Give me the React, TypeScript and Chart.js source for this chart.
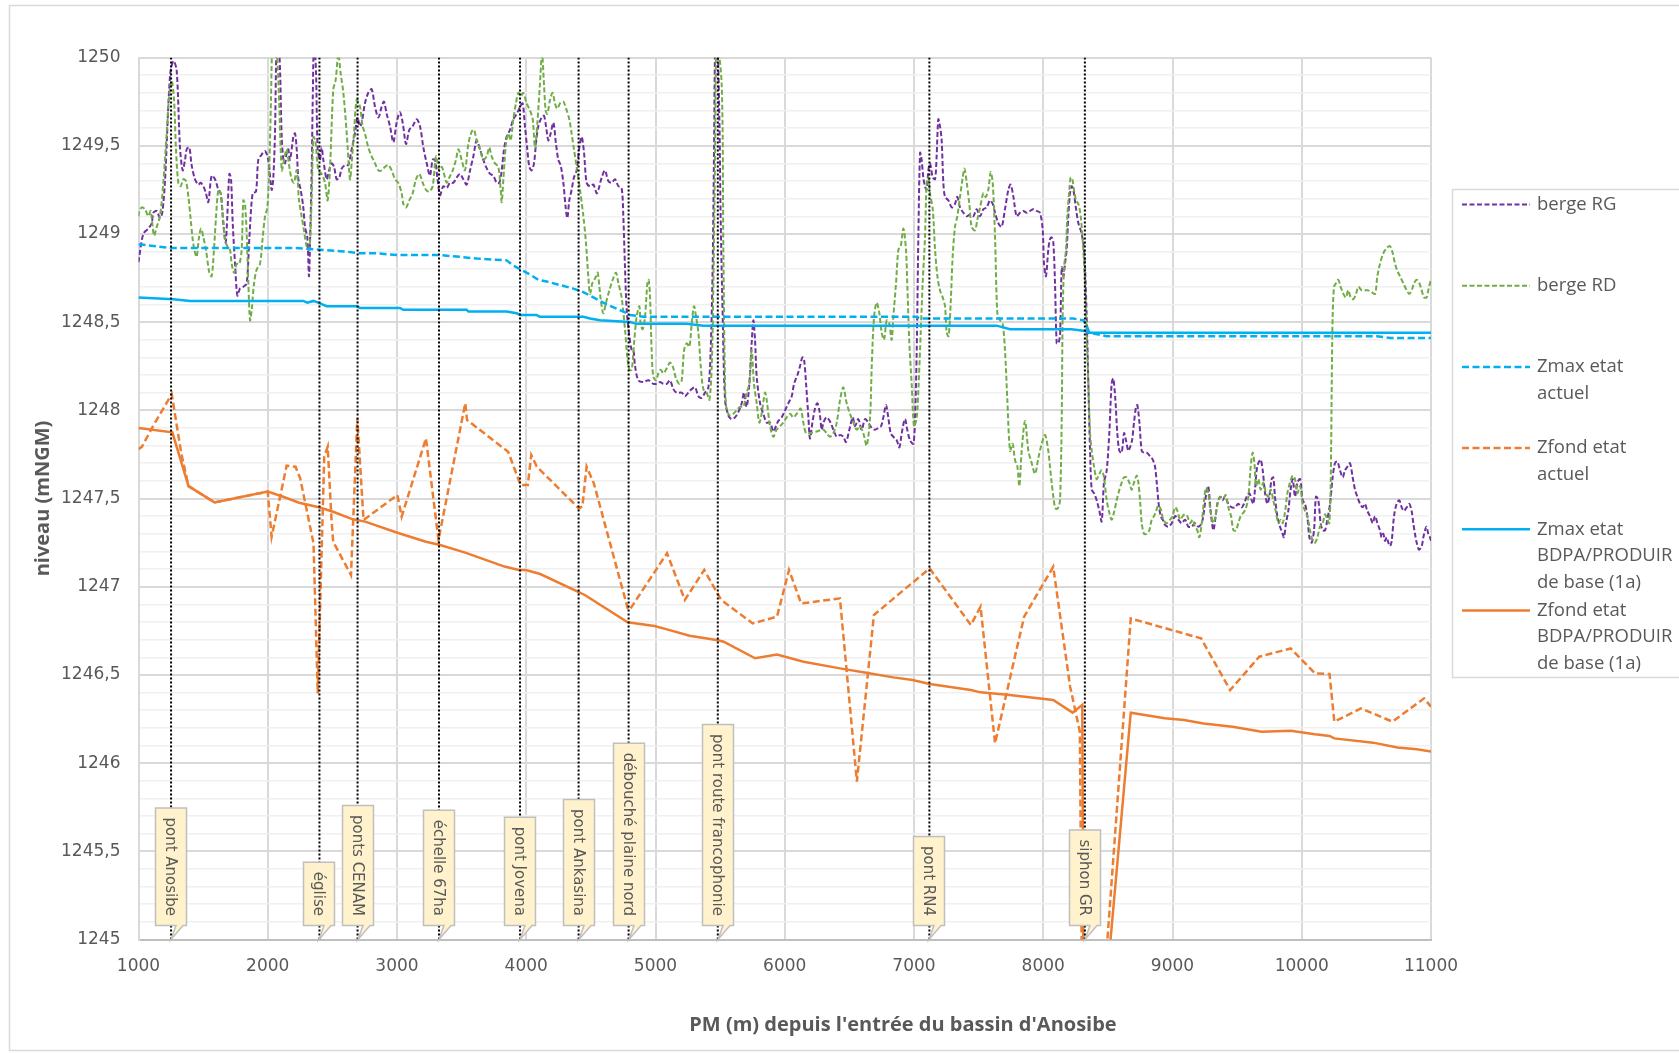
import React, { useEffect, useRef } from 'react';
import { Chart, registerables } from 'chart.js';

Chart.register(...registerables);

type P = [number, number];

// ---------- DATA ----------
const xTickLabels = ['1000', '2000', '3000', '4000', '5000', '6000', '7000', '8000', '9000', '10000', '11000'];
const yTickLabels = ['1245', '1245,5', '1246', '1246,5', '1247', '1247,5', '1248', '1248,5', '1249', '1249,5', '1250'];
const xTitle = "PM (m) depuis l'entrée du bassin d'Anosibe";
const yTitle = 'niveau (mNGM)';

const legendLabels: string[][] = [
  ['berge RG'],
  ['berge RD'],
  ['Zmax etat', 'actuel'],
  ['Zfond etat', 'actuel'],
  ['Zmax etat', 'BDPA/PRODUIR', 'de base (1a)'],
  ['Zfond etat', 'BDPA/PRODUIR', 'de base (1a)'],
];

const structureX = [1252, 2400, 2695, 3325, 3952, 4405, 4792, 5482, 7119, 8322];
const structureLabels = ['pont Anosibe', 'église', 'ponts CENAM', 'échelle 67ha', 'pont Jovena', 'pont Ankasina', 'débouché plaine nord', 'pont route francophonie', 'pont RN4', 'siphon GR'];

const bergeRG: P[] = [
  [1000,1248.84],[1004,1248.86],[1037,1249.00],[1076,1249.03],[1102,1249.06],[1115,1249.12],[1141,1249.13],[1166,1249.09],[1184,1249.12],[1205,1249.30],[1244,1249.90],[1270,1249.98],[1295,1249.93],[1321,1249.49],[1342,1249.36],[1360,1249.42],[1373,1249.48],[1393,1249.49],[1411,1249.39],[1437,1249.31],[1463,1249.28],[1481,1249.29],[1502,1249.27],[1522,1249.23],[1540,1249.18],[1566,1249.33],[1592,1249.31],[1618,1249.25],[1636,1249.23],[1656,1249.06],[1674,1248.95],[1687,1249.10],[1703,1249.34],[1716,1249.31],[1729,1249.06],[1747,1248.83],[1765,1248.65],[1785,1248.69],[1811,1248.70],[1837,1248.72],[1858,1248.98],[1883,1249.23],[1909,1249.24],[1927,1249.42],[1953,1249.45],[1979,1249.47],[2004,1249.42],[2030,1249.25],[2043,1249.32],[2056,1249.57],[2069,1250.1],[2082,1250.1],[2095,1249.93],[2108,1249.55],[2121,1249.42],[2134,1249.40],[2146,1249.46],[2159,1249.48],[2172,1249.42],[2198,1249.55],[2211,1249.57],[2224,1249.48],[2237,1249.31],[2255,1249.25],[2275,1249.15],[2288,1249.04],[2306,1248.98],[2319,1248.76],[2327,1248.95],[2340,1249.36],[2348,1249.76],[2358,1250.1],[2373,1249.93],[2386,1249.48],[2404,1249.42],[2417,1249.49],[2430,1249.42],[2456,1249.31],[2474,1249.36],[2495,1249.40],[2513,1249.38],[2533,1249.31],[2554,1249.32],[2572,1249.37],[2598,1249.39],[2623,1249.39],[2649,1249.48],[2675,1249.57],[2693,1249.66],[2714,1249.61],[2727,1249.63],[2752,1249.74],[2778,1249.80],[2804,1249.82],[2830,1249.72],[2856,1249.66],[2881,1249.72],[2899,1249.75],[2920,1249.68],[2946,1249.61],[2972,1249.52],[2997,1249.63],[3023,1249.69],[3044,1249.63],[3070,1249.51],[3095,1249.59],[3121,1249.61],[3152,1249.65],[3178,1249.61],[3204,1249.49],[3230,1249.40],[3255,1249.33],[3276,1249.42],[3294,1249.42],[3312,1249.32],[3333,1249.22],[3358,1249.27],[3384,1249.26],[3410,1249.29],[3436,1249.29],[3462,1249.32],[3487,1249.34],[3513,1249.31],[3539,1249.28],[3565,1249.36],[3591,1249.44],[3616,1249.53],[3642,1249.48],[3668,1249.42],[3689,1249.38],[3720,1249.34],[3745,1249.33],[3771,1249.29],[3792,1249.29],[3810,1249.36],[3828,1249.48],[3848,1249.55],[3874,1249.59],[3900,1249.65],[3926,1249.68],[3952,1249.72],[3972,1249.74],[3990,1249.61],[4008,1249.48],[4024,1249.38],[4042,1249.36],[4060,1249.40],[4075,1249.51],[4093,1249.61],[4119,1249.66],[4137,1249.67],[4153,1249.61],[4171,1249.53],[4189,1249.57],[4210,1249.63],[4230,1249.51],[4248,1249.42],[4266,1249.39],[4287,1249.29],[4305,1249.15],[4318,1249.09],[4333,1249.19],[4351,1249.25],[4369,1249.32],[4390,1249.36],[4411,1249.49],[4429,1249.55],[4447,1249.46],[4467,1249.29],[4493,1249.27],[4519,1249.28],[4545,1249.23],[4558,1249.25],[4584,1249.32],[4609,1249.36],[4635,1249.30],[4661,1249.29],[4687,1249.31],[4713,1249.27],[4738,1249.26],[4751,1249.10],[4764,1248.81],[4777,1248.57],[4798,1248.42],[4816,1248.34],[4829,1248.34],[4842,1248.25],[4867,1248.17],[4906,1248.16],[4945,1248.17],[4983,1248.15],[5009,1248.15],[5035,1248.16],[5061,1248.15],[5087,1248.15],[5112,1248.17],[5138,1248.12],[5164,1248.10],[5203,1248.10],[5228,1248.08],[5254,1248.10],[5280,1248.12],[5306,1248.13],[5332,1248.08],[5357,1248.07],[5383,1248.10],[5409,1248.13],[5427,1248.34],[5442,1248.81],[5453,1249.48],[5463,1250.1],[5478,1250.1],[5494,1249.66],[5504,1249.10],[5520,1248.53],[5538,1248.06],[5564,1247.97],[5589,1247.95],[5615,1247.96],[5641,1247.99],[5667,1248.04],[5685,1248.10],[5705,1248.02],[5726,1248.15],[5744,1248.38],[5757,1248.51],[5770,1248.40],[5783,1248.19],[5809,1248.04],[5834,1247.98],[5860,1247.93],[5886,1247.93],[5912,1247.88],[5932,1247.91],[5950,1247.94],[5976,1247.96],[6002,1248.00],[6028,1248.04],[6054,1248.08],[6072,1248.15],[6098,1248.20],[6118,1248.25],[6136,1248.30],[6149,1248.29],[6165,1248.15],[6183,1247.96],[6195,1247.84],[6214,1247.93],[6234,1248.01],[6252,1248.04],[6268,1248.00],[6286,1247.89],[6299,1247.93],[6324,1247.96],[6355,1247.93],[6376,1247.89],[6402,1247.85],[6428,1247.86],[6453,1247.85],[6474,1247.82],[6500,1247.89],[6526,1247.96],[6544,1247.91],[6569,1247.95],[6595,1247.89],[6621,1247.95],[6647,1247.93],[6673,1247.90],[6698,1247.89],[6724,1247.90],[6745,1247.91],[6763,1247.96],[6783,1248.03],[6801,1247.96],[6820,1247.87],[6840,1247.85],[6866,1247.83],[6887,1247.79],[6905,1247.87],[6930,1247.95],[6948,1247.89],[6969,1247.83],[6995,1247.81],[7008,1247.96],[7021,1248.34],[7034,1249.00],[7047,1249.46],[7059,1249.42],[7072,1249.32],[7085,1249.27],[7098,1249.25],[7111,1249.36],[7124,1249.40],[7145,1249.32],[7163,1249.31],[7175,1249.44],[7188,1249.65],[7201,1249.61],[7214,1249.53],[7227,1249.29],[7240,1249.21],[7266,1249.19],[7292,1249.15],[7317,1249.17],[7335,1249.21],[7356,1249.15],[7382,1249.12],[7408,1249.10],[7433,1249.11],[7459,1249.10],[7485,1249.14],[7511,1249.10],[7537,1249.14],[7562,1249.15],[7588,1249.19],[7609,1249.17],[7627,1249.12],[7653,1249.06],[7678,1249.04],[7704,1249.14],[7730,1249.25],[7748,1249.28],[7769,1249.21],[7794,1249.10],[7820,1249.12],[7846,1249.13],[7872,1249.12],[7898,1249.13],[7923,1249.14],[7949,1249.13],[7975,1249.12],[7996,1249.02],[8006,1248.83],[8021,1248.76],[8039,1248.91],[8052,1248.97],[8065,1248.98],[8078,1248.95],[8091,1248.72],[8104,1248.38],[8117,1248.38],[8130,1248.43],[8143,1248.81],[8156,1248.76],[8168,1248.83],[8181,1248.91],[8194,1249.10],[8207,1249.23],[8220,1249.27],[8233,1249.25],[8254,1249.14],[8272,1249.06],[8290,1249.02],[8310,1248.95],[8323,1248.81],[8336,1248.53],[8349,1248.15],[8362,1247.77],[8375,1247.55],[8393,1247.53],[8413,1247.49],[8434,1247.43],[8452,1247.37],[8470,1247.59],[8491,1247.66],[8511,1247.87],[8529,1248.15],[8542,1248.18],[8558,1248.06],[8573,1247.87],[8589,1247.77],[8607,1247.76],[8625,1247.87],[8640,1247.83],[8658,1247.77],[8671,1247.79],[8687,1247.83],[8702,1247.93],[8718,1248.02],[8728,1248.03],[8744,1247.93],[8762,1247.77],[8780,1247.76],[8800,1247.76],[8826,1247.74],[8847,1247.72],[8865,1247.68],[8878,1247.59],[8893,1247.47],[8909,1247.40],[8924,1247.38],[8942,1247.35],[8968,1247.34],[8994,1247.36],[9020,1247.40],[9045,1247.38],[9071,1247.36],[9097,1247.38],[9123,1247.34],[9148,1247.34],[9174,1247.36],[9200,1247.34],[9226,1247.36],[9244,1247.43],[9265,1247.55],[9277,1247.57],[9295,1247.43],[9316,1247.32],[9334,1247.40],[9347,1247.47],[9368,1247.51],[9388,1247.49],[9406,1247.51],[9432,1247.47],[9458,1247.45],[9484,1247.45],[9509,1247.47],[9535,1247.45],[9553,1247.47],[9574,1247.51],[9595,1247.53],[9613,1247.49],[9626,1247.47],[9638,1247.55],[9651,1247.66],[9664,1247.70],[9682,1247.72],[9698,1247.66],[9716,1247.53],[9734,1247.47],[9749,1247.51],[9767,1247.61],[9780,1247.62],[9793,1247.51],[9811,1247.40],[9832,1247.34],[9852,1247.30],[9863,1247.28],[9878,1247.36],[9896,1247.43],[9914,1247.55],[9930,1247.61],[9948,1247.51],[9966,1247.59],[9987,1247.61],[10007,1247.49],[10025,1247.47],[10043,1247.40],[10059,1247.28],[10077,1247.25],[10095,1247.32],[10110,1247.51],[10128,1247.49],[10146,1247.36],[10162,1247.32],[10180,1247.32],[10198,1247.38],[10219,1247.47],[10239,1247.62],[10257,1247.70],[10275,1247.71],[10296,1247.66],[10317,1247.62],[10335,1247.66],[10353,1247.68],[10373,1247.70],[10394,1247.62],[10412,1247.55],[10430,1247.51],[10451,1247.47],[10471,1247.45],[10489,1247.47],[10507,1247.43],[10528,1247.40],[10549,1247.36],[10567,1247.40],[10585,1247.36],[10605,1247.32],[10618,1247.28],[10631,1247.30],[10644,1247.26],[10657,1247.28],[10670,1247.25],[10683,1247.23],[10696,1247.26],[10714,1247.40],[10734,1247.47],[10755,1247.49],[10773,1247.45],[10791,1247.43],[10812,1247.45],[10832,1247.47],[10850,1247.43],[10863,1247.36],[10876,1247.30],[10889,1247.25],[10907,1247.21],[10928,1247.23],[10941,1247.28],[10954,1247.32],[10966,1247.34],[10979,1247.30],[10992,1247.28],[11000,1247.26],
];

const bergeRD: P[] = [
  [1000,1249.10],[1004,1249.12],[1025,1249.15],[1050,1249.14],[1076,1249.10],[1094,1249.13],[1120,1248.99],[1141,1249.04],[1166,1249.10],[1192,1249.29],[1218,1249.57],[1239,1249.80],[1257,1249.87],[1275,1249.76],[1290,1249.48],[1308,1249.29],[1326,1249.27],[1347,1249.31],[1367,1249.30],[1386,1249.21],[1404,1249.08],[1419,1248.97],[1432,1248.91],[1450,1248.87],[1468,1248.98],[1484,1249.03],[1502,1248.98],[1522,1248.91],[1548,1248.78],[1566,1248.76],[1584,1248.91],[1600,1249.10],[1618,1249.25],[1636,1249.23],[1651,1249.12],[1669,1248.97],[1687,1248.93],[1708,1248.91],[1721,1248.83],[1739,1248.78],[1759,1248.83],[1780,1248.83],[1798,1248.91],[1811,1249.19],[1824,1249.17],[1837,1249.00],[1850,1248.72],[1863,1248.51],[1876,1248.57],[1894,1248.72],[1915,1248.80],[1940,1248.83],[1961,1248.98],[1979,1249.10],[1997,1249.15],[2012,1249.38],[2025,1249.76],[2038,1250.1],[2060,1250.1],[2082,1249.87],[2108,1249.36],[2126,1249.42],[2146,1249.48],[2167,1249.38],[2185,1249.31],[2203,1249.29],[2224,1249.36],[2242,1249.19],[2262,1249.10],[2280,1249.02],[2301,1248.93],[2322,1248.91],[2340,1249.21],[2353,1249.55],[2368,1249.53],[2391,1249.36],[2417,1249.34],[2443,1249.29],[2463,1249.19],[2481,1249.36],[2507,1249.82],[2525,1249.87],[2546,1250.02],[2564,1249.91],[2585,1249.80],[2611,1249.57],[2636,1249.31],[2649,1249.40],[2667,1249.57],[2688,1249.76],[2714,1249.72],[2734,1249.61],[2752,1249.57],[2778,1249.49],[2804,1249.44],[2830,1249.40],[2856,1249.36],[2881,1249.36],[2907,1249.38],[2933,1249.39],[2959,1249.36],[2985,1249.31],[3010,1249.29],[3036,1249.23],[3049,1249.17],[3070,1249.15],[3095,1249.19],[3121,1249.23],[3147,1249.31],[3173,1249.34],[3199,1249.29],[3224,1249.25],[3250,1249.24],[3276,1249.27],[3302,1249.44],[3327,1249.36],[3346,1249.38],[3364,1249.34],[3384,1249.29],[3405,1249.32],[3431,1249.36],[3456,1249.42],[3475,1249.48],[3500,1249.42],[3526,1249.36],[3552,1249.51],[3578,1249.58],[3596,1249.59],[3616,1249.53],[3642,1249.48],[3668,1249.42],[3694,1249.44],[3714,1249.49],[3732,1249.44],[3758,1249.40],[3784,1249.38],[3802,1249.25],[3810,1249.18],[3823,1249.31],[3843,1249.51],[3861,1249.57],[3879,1249.53],[3900,1249.65],[3920,1249.74],[3939,1249.80],[3957,1249.78],[3977,1249.80],[4003,1249.74],[4029,1249.70],[4050,1249.65],[4068,1249.49],[4086,1249.63],[4106,1249.85],[4122,1250.02],[4137,1249.85],[4150,1249.70],[4163,1249.68],[4184,1249.76],[4204,1249.80],[4222,1249.74],[4240,1249.71],[4261,1249.74],[4287,1249.75],[4313,1249.70],[4333,1249.65],[4351,1249.57],[4369,1249.48],[4390,1249.38],[4416,1249.25],[4442,1249.10],[4462,1248.95],[4480,1248.76],[4493,1248.66],[4511,1248.72],[4527,1248.74],[4540,1248.76],[4553,1248.78],[4576,1248.63],[4596,1248.55],[4617,1248.61],[4643,1248.68],[4669,1248.74],[4694,1248.78],[4713,1248.72],[4738,1248.64],[4764,1248.46],[4782,1248.30],[4798,1248.23],[4816,1248.23],[4834,1248.38],[4854,1248.53],[4875,1248.59],[4885,1248.49],[4901,1248.46],[4919,1248.53],[4937,1248.72],[4947,1248.74],[4958,1248.64],[4970,1248.34],[4983,1248.19],[5004,1248.17],[5022,1248.21],[5040,1248.23],[5061,1248.21],[5081,1248.23],[5112,1248.27],[5133,1248.25],[5159,1248.18],[5185,1248.15],[5203,1248.17],[5221,1248.34],[5241,1248.38],[5262,1248.36],[5280,1248.49],[5298,1248.59],[5314,1248.53],[5332,1248.44],[5350,1248.25],[5370,1248.12],[5396,1248.10],[5417,1248.06],[5435,1248.25],[5448,1248.72],[5460,1249.38],[5473,1250.1],[5512,1249.85],[5525,1248.91],[5538,1248.15],[5551,1248.00],[5577,1247.97],[5602,1247.98],[5628,1248.00],[5654,1248.02],[5680,1248.02],[5705,1248.10],[5726,1248.15],[5744,1248.34],[5762,1248.15],[5783,1248.04],[5803,1247.93],[5821,1247.98],[5847,1248.10],[5860,1248.06],[5886,1247.91],[5912,1247.85],[5937,1247.89],[5963,1247.91],[5989,1247.93],[6015,1247.96],[6041,1247.98],[6066,1247.96],[6092,1247.98],[6123,1248.01],[6144,1247.93],[6165,1247.87],[6195,1247.87],[6247,1247.88],[6299,1247.89],[6324,1247.87],[6350,1247.85],[6376,1247.87],[6402,1247.93],[6428,1248.06],[6453,1248.13],[6479,1248.04],[6505,1247.98],[6531,1247.93],[6557,1247.89],[6582,1247.91],[6608,1247.87],[6634,1247.80],[6660,1247.96],[6673,1248.25],[6691,1248.53],[6711,1248.61],[6732,1248.55],[6750,1248.44],[6768,1248.40],[6789,1248.51],[6809,1248.49],[6827,1248.40],[6840,1248.53],[6861,1248.72],[6879,1248.91],[6897,1248.93],[6918,1249.03],[6938,1248.91],[6948,1248.72],[6964,1248.38],[6982,1248.15],[7000,1247.91],[7021,1247.96],[7036,1248.15],[7052,1248.44],[7067,1248.72],[7085,1248.98],[7098,1249.29],[7111,1249.32],[7124,1249.23],[7145,1249.14],[7163,1248.91],[7181,1248.76],[7201,1248.68],[7222,1248.64],[7240,1248.59],[7253,1248.44],[7268,1248.42],[7284,1248.61],[7299,1248.87],[7317,1249.04],[7335,1249.10],[7356,1249.21],[7377,1249.32],[7390,1249.37],[7408,1249.29],[7428,1249.17],[7446,1249.04],[7472,1249.02],[7490,1249.08],[7511,1249.15],[7537,1249.23],[7555,1249.21],[7575,1249.25],[7593,1249.35],[7609,1249.29],[7627,1248.98],[7645,1248.55],[7666,1248.51],[7686,1248.49],[7704,1248.34],[7722,1248.06],[7743,1247.77],[7763,1247.81],[7781,1247.72],[7800,1247.68],[7815,1247.57],[7833,1247.77],[7859,1247.94],[7885,1247.77],[7911,1247.70],[7937,1247.64],[7962,1247.73],[7988,1247.81],[8014,1247.86],[8039,1247.77],[8052,1247.68],[8065,1247.59],[8078,1247.51],[8091,1247.45],[8104,1247.44],[8117,1247.45],[8130,1247.49],[8143,1247.96],[8150,1248.53],[8161,1248.81],[8176,1248.91],[8186,1249.10],[8202,1249.25],[8212,1249.32],[8225,1249.31],[8238,1249.25],[8254,1249.19],[8272,1249.17],[8290,1249.10],[8310,1248.91],[8323,1248.72],[8336,1248.44],[8349,1248.15],[8362,1247.87],[8375,1247.77],[8393,1247.68],[8413,1247.61],[8434,1247.64],[8452,1247.66],[8470,1247.62],[8491,1247.49],[8511,1247.42],[8529,1247.38],[8547,1247.42],[8568,1247.49],[8589,1247.55],[8607,1247.59],[8625,1247.62],[8645,1247.62],[8666,1247.59],[8684,1247.55],[8702,1247.59],[8723,1247.63],[8736,1247.59],[8749,1247.49],[8762,1247.36],[8780,1247.30],[8800,1247.30],[8821,1247.32],[8839,1247.38],[8857,1247.40],[8878,1247.44],[8890,1247.46],[8909,1247.44],[8929,1247.38],[8955,1247.36],[8981,1247.38],[9001,1247.40],[9020,1247.45],[9038,1247.43],[9058,1247.38],[9079,1247.40],[9097,1247.41],[9115,1247.40],[9136,1247.36],[9156,1247.38],[9174,1247.34],[9192,1247.32],[9208,1247.28],[9226,1247.36],[9244,1247.49],[9259,1247.56],[9277,1247.53],[9295,1247.42],[9316,1247.36],[9337,1247.42],[9355,1247.49],[9373,1247.51],[9393,1247.50],[9412,1247.52],[9432,1247.45],[9453,1247.40],[9471,1247.32],[9491,1247.32],[9509,1247.36],[9527,1247.40],[9548,1247.42],[9566,1247.44],[9587,1247.51],[9605,1247.68],[9620,1247.76],[9634,1247.70],[9646,1247.57],[9664,1247.61],[9682,1247.55],[9703,1247.59],[9723,1247.53],[9741,1247.51],[9760,1247.55],[9780,1247.49],[9801,1247.42],[9819,1247.36],[9837,1247.38],[9852,1247.36],[9870,1247.42],[9889,1247.53],[9909,1247.59],[9930,1247.63],[9948,1247.61],[9966,1247.53],[9987,1247.57],[10007,1247.47],[10025,1247.43],[10043,1247.40],[10064,1247.32],[10085,1247.26],[10103,1247.25],[10121,1247.28],[10141,1247.34],[10162,1247.36],[10180,1247.41],[10198,1247.38],[10213,1247.36],[10224,1247.59],[10232,1248.15],[10239,1248.53],[10250,1248.70],[10265,1248.72],[10283,1248.74],[10301,1248.70],[10322,1248.66],[10342,1248.64],[10360,1248.68],[10379,1248.64],[10399,1248.63],[10420,1248.66],[10438,1248.70],[10464,1248.68],[10489,1248.68],[10515,1248.68],[10541,1248.67],[10567,1248.66],[10585,1248.76],[10605,1248.83],[10631,1248.89],[10657,1248.92],[10683,1248.93],[10704,1248.89],[10722,1248.83],[10740,1248.79],[10760,1248.76],[10786,1248.72],[10812,1248.68],[10832,1248.66],[10850,1248.68],[10869,1248.72],[10889,1248.74],[10910,1248.72],[10928,1248.68],[10946,1248.64],[10966,1248.64],[10979,1248.68],[10992,1248.72],[11000,1248.74],
];

const zmaxActuel: P[] = [
  [1000,1248.94],[1024,1248.94],[1244,1248.92],[2220,1248.92],[2600,1248.90],[2714,1248.89],[2843,1248.89],[2997,1248.88],[3333,1248.88],[3487,1248.87],[3616,1248.86],[3848,1248.85],[3900,1248.82],[3952,1248.80],[4029,1248.77],[4093,1248.74],[4158,1248.73],[4261,1248.71],[4364,1248.69],[4442,1248.67],[4519,1248.64],[4570,1248.62],[4622,1248.60],[4751,1248.56],[4803,1248.54],[4906,1248.53],[7021,1248.53],[7047,1248.52],[8233,1248.52],[8310,1248.51],[8336,1248.48],[8356,1248.44],[8491,1248.42],[10580,1248.42],[10683,1248.41],[11000,1248.41],
];

const zfondActuel: P[] = [
  [1000,1247.78],[1027,1247.794],[1110,1247.907],[1257,1248.092],[1331,1247.756],[1387,1247.57],[1588,1247.478],[2000,1247.539],[2030,1247.283],[2146,1247.686],[2215,1247.68],[2251,1247.614],[2354,1247.246],[2387,1246.395],[2437,1247.737],[2464,1247.794],[2492,1247.397],[2506,1247.255],[2644,1247.066],[2693,1247.955],[2741,1247.378],[3003,1247.52],[3036,1247.397],[3224,1247.841],[3321,1247.265],[3528,1248.04],[3542,1247.945],[3860,1247.765],[3956,1247.576],[4012,1247.576],[4039,1247.747],[4081,1247.681],[4407,1247.444],[4434,1247.454],[4467,1247.681],[4523,1247.586],[4785,1246.877],[4799,1246.868],[5089,1247.19],[5227,1246.925],[5377,1247.095],[5508,1246.925],[5752,1246.792],[5940,1246.83],[6033,1247.095],[6127,1246.905],[6427,1246.934],[6558,1245.895],[6690,1246.84],[7121,1247.104],[7440,1246.783],[7515,1246.887],[7627,1246.112],[7852,1246.83],[8077,1247.113],[8208,1246.433],[8283,1246.178],[8318,1243.2],[8677,1246.82],[9221,1246.707],[9446,1246.414],[9671,1246.603],[9915,1246.65],[10102,1246.509],[10215,1246.505],[10252,1246.235],[10458,1246.31],[10702,1246.235],[10946,1246.367],[11000,1246.32],
];

const zmaxBDPA: P[] = [
  [1000,1248.64],[1270,1248.63],[1400,1248.62],[2275,1248.62],[2306,1248.61],[2353,1248.62],[2390,1248.61],[2456,1248.59],[2690,1248.59],[2714,1248.58],[3023,1248.58],[3049,1248.57],[3539,1248.57],[3552,1248.56],[3848,1248.56],[3926,1248.55],[3952,1248.54],[4080,1248.54],[4106,1248.53],[4442,1248.53],[4493,1248.52],[4570,1248.51],[4803,1248.50],[4854,1248.49],[5241,1248.49],[5370,1248.48],[7640,1248.48],[7743,1248.46],[8220,1248.46],[8323,1248.45],[8349,1248.44],[11000,1248.44],
];

const zfondBDPA: P[] = [
  [1000,1247.90],[1262,1247.875],[1387,1247.57],[1588,1247.478],[2000,1247.539],[2119,1247.51],[2243,1247.476],[2395,1247.45],[2506,1247.425],[2658,1247.382],[2754,1247.369],[3003,1247.306],[3224,1247.255],[3334,1247.236],[3528,1247.193],[3832,1247.114],[3942,1247.095],[3998,1247.095],[4108,1247.072],[4398,1246.972],[4453,1246.953],[4785,1246.798],[4992,1246.777],[5089,1246.758],[5263,1246.722],[5484,1246.696],[5527,1246.688],[5771,1246.594],[5940,1246.616],[6146,1246.575],[6427,1246.537],[6652,1246.509],[6840,1246.486],[6990,1246.471],[7121,1246.448],[7440,1246.414],[7515,1246.401],[7740,1246.386],[8077,1246.358],[8227,1246.286],[8302,1246.33],[8320,1243.35],[8677,1246.286],[8940,1246.254],[9090,1246.244],[9240,1246.225],[9465,1246.206],[9690,1246.178],[9915,1246.184],[10102,1246.163],[10215,1246.154],[10252,1246.14],[10552,1246.116],[10740,1246.089],[10890,1246.078],[11000,1246.066],
];

// ---------- HELPERS ----------
const pts = (a: P[]) => a.map(([x, y]) => ({ x, y }));
const Y_MIN = 1245;
const Y_MAX = 1250;
const isMajor = (v: number) => Math.round((v - Y_MIN) * 10) % 5 === 0;

const TEXT = '#595959';

const framePlugin = {
  id: 'frame',
  beforeDraw(chart: any) {
    const { ctx } = chart;
    ctx.save();
    ctx.strokeStyle = '#D9D9D9';
    ctx.lineWidth = 1.5;
    ctx.strokeRect(9.5, 5.5, 1700, 1045);
    ctx.restore();
  },
  afterDraw(chart: any) {
    const { ctx } = chart;
    ctx.save();
    ctx.fillStyle = TEXT;
    ctx.font = 'bold 20px "Open Sans"';
    ctx.textAlign = 'center';
    ctx.textBaseline = 'middle';
    ctx.fillText(xTitle, 903, 1025);
    ctx.restore();
  },
};

const calloutPlugin = {
  id: 'callouts',
  afterDatasetsDraw(chart: any) {
    const { ctx, scales } = chart;
    const xs = scales.x;
    const axisY = scales.y.getPixelForValue(Y_MIN);
    const boxBottom = axisY - 14;
    ctx.save();
    ctx.font = '15px "DejaVu Sans"';
    structureX.forEach((sx, i) => {
      const label = structureLabels[i];
      const px = Math.round(xs.getPixelForValue(sx));
      const w = ctx.measureText(label).width;
      const h = w + 19;
      const top = boxBottom - h;
      const left = px - 15.5;
      const right = px + 15.5;
      ctx.beginPath();
      ctx.moveTo(left, top);
      ctx.lineTo(right, top);
      ctx.lineTo(right, boxBottom);
      ctx.lineTo(px + 12, boxBottom);
      ctx.lineTo(px, axisY);
      ctx.lineTo(px + 5, boxBottom);
      ctx.lineTo(left, boxBottom);
      ctx.closePath();
      ctx.fillStyle = '#FFF2CC';
      ctx.fill();
      ctx.strokeStyle = '#BFBFBF';
      ctx.lineWidth = 1.5;
      ctx.stroke();
      ctx.save();
      ctx.translate(px, top + 9.5);
      ctx.rotate(Math.PI / 2);
      ctx.fillStyle = TEXT;
      ctx.textAlign = 'left';
      ctx.textBaseline = 'middle';
      ctx.fillText(label, 0, 1);
      ctx.restore();
    });
    ctx.restore();
  },
};

const legendPlugin = {
  id: 'customLegend',
  afterDraw(chart: any) {
    const { ctx } = chart;
    ctx.save();
    ctx.strokeStyle = '#D9D9D9';
    ctx.lineWidth = 1.5;
    ctx.strokeRect(1452.5, 189.5, 300, 488);
    ctx.font = '18.5px "Open Sans"';
    ctx.textBaseline = 'middle';
    ctx.textAlign = 'left';
    legendLabels.forEach((lines, i) => {
      const ds = chart.data.datasets[i];
      const y0 = 204.5 + i * 81.2;
      ctx.save();
      ctx.strokeStyle = ds.borderColor;
      ctx.lineWidth = ds.borderWidth;
      ctx.setLineDash(ds.borderDash || []);
      ctx.beginPath();
      ctx.moveTo(1462, y0);
      ctx.lineTo(1530, y0);
      ctx.stroke();
      ctx.restore();
      ctx.fillStyle = TEXT;
      lines.forEach((t, k) => ctx.fillText(t, 1537, y0 + k * 26.5));
    });
    ctx.restore();
  },
};

export default function App() {
  const ref = useRef<HTMLCanvasElement | null>(null);

  useEffect(() => {
    const canvas = ref.current;
    if (!canvas) return;
    const structureSets = structureX.map((sx) => ({
      label: '',
      data: [{ x: sx, y: Y_MIN }, { x: sx, y: Y_MAX }],
      borderColor: '#000000',
      borderWidth: 2,
      borderDash: [2, 2],
      pointRadius: 0,
      order: 0,
      clip: 0,
    }));
    const yTicks: number[] = [];
    for (let i = 0; i <= 50; i++) yTicks.push(Y_MIN + i / 10);

    const chart = new Chart(canvas, {
      type: 'line',
      data: {
        datasets: [
          { label: legendLabels[0].join(' '), data: pts(bergeRG), borderColor: '#7030A0', borderWidth: 2, borderDash: [5, 2.5], pointRadius: 0, tension: 0.3, order: 6, clip: 0 },
          { label: legendLabels[1].join(' '), data: pts(bergeRD), borderColor: '#70AD47', borderWidth: 2, borderDash: [5, 2.5], pointRadius: 0, tension: 0.3, order: 5, clip: 0 },
          { label: legendLabels[2].join(' '), data: pts(zmaxActuel), borderColor: '#00B0F0', borderWidth: 2.5, borderDash: [7, 3.5], pointRadius: 0, tension: 0, order: 4, clip: 0 },
          { label: legendLabels[3].join(' '), data: pts(zfondActuel), borderColor: '#ED7D31', borderWidth: 2.5, borderDash: [7, 3.5], pointRadius: 0, tension: 0, order: 3, clip: 0 },
          { label: legendLabels[4].join(' '), data: pts(zmaxBDPA), borderColor: '#00B0F0', borderWidth: 2.5, pointRadius: 0, tension: 0, order: 2, clip: 0 },
          { label: legendLabels[5].join(' '), data: pts(zfondBDPA), borderColor: '#ED7D31', borderWidth: 2.5, pointRadius: 0, tension: 0, order: 1, clip: 0 },
          ...structureSets,
        ] as any,
      },
      options: {
        responsive: false,
        animation: false,
        events: [],
        layout: { padding: { left: 0, top: 57.5, right: 248, bottom: 0 } },
        plugins: {
          legend: { display: false },
          tooltip: { enabled: false },
          title: { display: false },
        },
        scales: {
          x: {
            type: 'linear',
            min: 1000,
            max: 11000,
            afterFit: (s: any) => { s.height = 113.5; },
            ticks: {
              stepSize: 1000,
              autoSkip: false,
              maxRotation: 0,
              padding: 17,
              color: TEXT,
              font: { family: '"DejaVu Sans"', size: 17 },
              callback: (v: any) => xTickLabels[Math.round((Number(v) - 1000) / 1000)] ?? '',
            },
            grid: { color: '#D9D9D9', lineWidth: 2, drawTicks: false },
            border: { color: '#BFBFBF', width: 2 },
            title: { display: false },
          },
          y: {
            type: 'linear',
            min: Y_MIN,
            max: Y_MAX,
            afterFit: (s: any) => { s.width = 138.5; },
            afterBuildTicks: (s: any) => { s.ticks = yTicks.map((v) => ({ value: v })); },
            ticks: {
              autoSkip: false,
              padding: 18,
              color: TEXT,
              font: { family: '"DejaVu Sans"', size: 17 },
              callback: (v: any) => {
                const k = Math.round((Number(v) - Y_MIN) * 10);
                return k % 5 === 0 ? yTickLabels[k / 5] : '';
              },
            },
            grid: {
              color: (c: any) => (isMajor(c.tick.value) ? '#D9D9D9' : '#F0F0F0'),
              lineWidth: (c: any) => (isMajor(c.tick.value) ? 2 : 1.5),
              drawTicks: false,
            },
            border: { color: '#D9D9D9', width: 2 },
            title: {
              display: true,
              text: yTitle,
              color: TEXT,
              font: { family: '"Open Sans"', size: 20, weight: 'bold' },
              padding: { top: 31, bottom: 0 },
            },
          },
        },
      } as any,
      plugins: [framePlugin, calloutPlugin, legendPlugin],
    });
    return () => chart.destroy();
  }, []);

  return (
    <div style={{ position: 'fixed', left: 0, top: 0, width: 1679, height: 1053, background: '#ffffff' }}>
      <canvas ref={ref} width={1679} height={1053} style={{ display: 'block' }} />
    </div>
  );
}
